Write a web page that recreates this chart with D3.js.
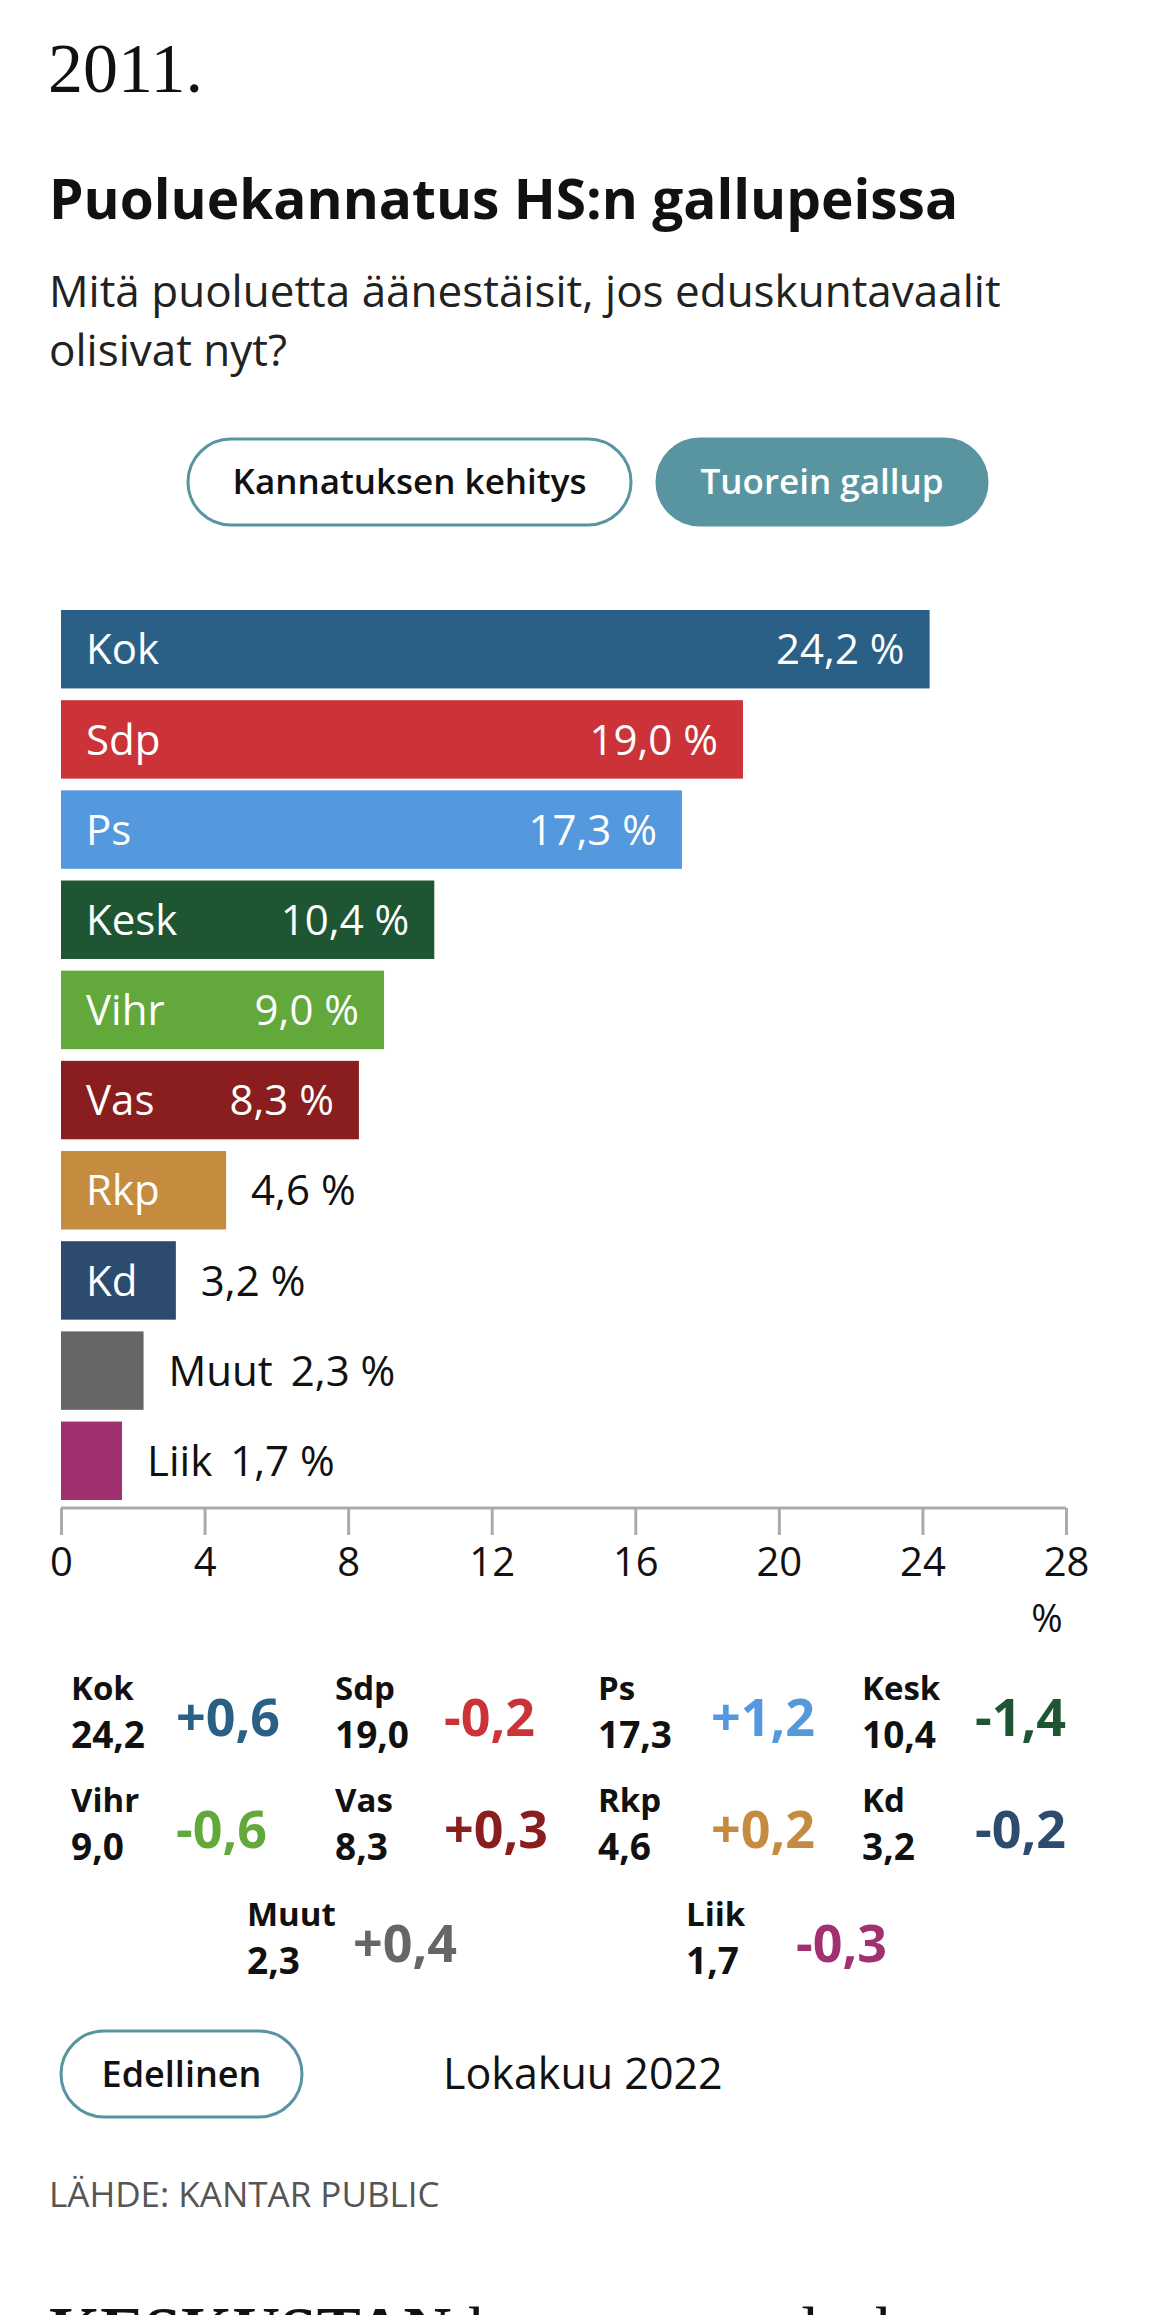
<!DOCTYPE html>
<html><head><meta charset="utf-8">
<script src="https://cdn.jsdelivr.net/npm/d3@7"></script>
<style>body{margin:0;background:#fff}svg{display:block}</style>
</head><body>
<svg id="chart"></svg>
<script>
const parties = ['Kok','Sdp','Ps','Kesk','Vihr','Vas','Rkp','Kd','Muut','Liik'];
const support = [24.2,19.0,17.3,10.4,9.0,8.3,4.6,3.2,2.3,1.7];
const change = [0.6,-0.2,1.2,-1.4,-0.6,0.3,0.2,-0.2,0.4,-0.3];
const colors = ['#2a5f86','#cc3339','#5499de','#1e5532','#63a83a','#8a1d1d','#c58b3f','#2c4b6f','#666666','#a1306f'];
const ticks = [0,4,8,12,16,20,24,28];

const W = 1170, H = 2315;
const sans = '"Open Sans", Roboto, sans-serif';
const fmt = v => v.toFixed(1).replace('.', ',');
const svg = d3.select('#chart').attr('width', W).attr('height', H);

// header
svg.append('text').attr('x', 48).attr('y', 92).attr('font-family', '"Liberation Serif", serif')
  .attr('font-size', 70).attr('fill', '#111').text('2011.');
svg.append('text').attr('x', 49).attr('y', 219).attr('font-family', sans).attr('font-weight', 700)
  .attr('font-size', 55).attr('fill', '#111').text('Puoluekannatus HS:n gallupeissa');
['Mitä puoluetta äänestäisit, jos eduskuntavaalit', 'olisivat nyt?'].forEach((t, i) =>
  svg.append('text').attr('x', 49).attr('y', 307 + i * 59).attr('font-family', sans)
    .attr('font-size', 44).attr('fill', '#222').text(t));

function button(x, y, w, h, label, filled, size) {
  svg.append('rect').attr('x', x).attr('y', y).attr('width', w).attr('height', h).attr('rx', h / 2)
    .attr('fill', filled ? '#5895a1' : '#fff').attr('stroke', '#5895a1').attr('stroke-width', 3);
  svg.append('text').attr('x', x + w / 2).attr('y', y + h / 2).attr('dy', '0.35em')
    .attr('text-anchor', 'middle').attr('font-family', sans).attr('font-weight', 600)
    .attr('font-size', size).attr('fill', filled ? '#fff' : '#111').text(label);
}
button(188, 439, 443, 86, 'Kannatuksen kehitys', false, 35);
button(657, 439, 330, 86, 'Tuorein gallup', true, 35);

// bars
const x = d3.scaleLinear().domain([0, 28]).range([61, 1066]);
const y = d3.scaleBand().domain(parties).range([610, 1500]).paddingInner(0.13).paddingOuter(0);
const rows = parties.map((p, i) => ({ p, v: support[i], c: colors[i] }));

const g = svg.append('g');
g.selectAll('rect').data(rows).enter().append('rect')
  .attr('x', x(0)).attr('y', d => y(d.p)).attr('height', y.bandwidth())
  .attr('width', d => x(d.v) - x(0)).attr('fill', d => d.c);

rows.forEach(d => {
  const w = x(d.v) - x(0), cy = y(d.p) + y.bandwidth() / 2, end = x(d.v);
  const t = (xx, txt, anchor, fill) => g.append('text').attr('x', xx).attr('y', cy).attr('dy', '0.36em')
    .attr('text-anchor', anchor).attr('font-family', sans).attr('font-size', 42).attr('fill', fill).text(txt);
  if (w >= 250) {
    t(86, d.p, 'start', '#fff');
    t(end - 25, fmt(d.v) + ' %', 'end', '#fff');
  } else if (w >= 100) {
    t(86, d.p, 'start', '#fff');
    t(end + 25, fmt(d.v) + ' %', 'start', '#111');
  } else {
    const lab = t(end + 25, d.p, 'start', '#111');
    const lw = lab.node().getComputedTextLength();
    t(end + 25 + lw + 18, fmt(d.v) + ' %', 'start', '#111');
  }
});

// axis
const axis = svg.append('g').attr('transform', 'translate(0,1508)')
  .call(d3.axisBottom(x).tickValues(ticks).tickSize(27).tickFormat(d => d));
axis.select('.domain').attr('stroke', '#aaa').attr('stroke-width', 3).attr('d', `M${x(0)},0H${x(28)}`);
axis.selectAll('.tick line').attr('stroke', '#aaa').attr('stroke-width', 3);
axis.selectAll('.tick text').attr('font-family', sans).attr('font-size', 40).attr('fill', '#111').attr('y', 40).attr('dy', '0.71em');
svg.append('text').attr('x', 1047).attr('y', 1632).attr('text-anchor', 'middle').attr('font-family', sans)
  .attr('font-size', 38).attr('fill', '#111').text('%');

// change grid
const colX = [71, 335, 598, 862];
const pos = parties.map((p, i) => {
  if (i < 8) return { nx: colX[i % 4], by: 1700 + Math.floor(i / 4) * 112 };
  return i === 8 ? { nx: 247, by: 1926 } : { nx: 686, by: 1926 };
});
const chX = [176, 444, 711, 975, 176, 444, 711, 975, 353, 796];
parties.forEach((p, i) => {
  const o = pos[i];
  svg.append('text').attr('x', o.nx).attr('y', o.by).attr('font-family', sans).attr('font-weight', 700)
    .attr('font-size', 33).attr('fill', '#111').text(p);
  svg.append('text').attr('x', o.nx).attr('y', o.by + 48).attr('font-family', sans).attr('font-weight', 700)
    .attr('font-size', 37).attr('fill', '#111').text(fmt(support[i]));
  svg.append('text').attr('x', chX[i]).attr('y', o.by + 36).attr('font-family', sans).attr('font-weight', 700)
    .attr('font-size', 52).attr('fill', colors[i])
    .text((change[i] > 0 ? '+' : '-') + fmt(Math.abs(change[i])));
});

// footer
button(61, 2031, 241, 86, 'Edellinen', false, 36);
svg.append('text').attr('x', 443).attr('y', 2074).attr('dy', '0.35em').attr('font-family', sans)
  .attr('font-size', 43).attr('fill', '#111').text('Lokakuu 2022');
svg.append('text').attr('x', 49).attr('y', 2207).attr('font-family', sans).attr('font-size', 35)
  .attr('fill', '#555').text('LÄHDE: KANTAR PUBLIC');
const last = svg.append('text').attr('x', 49).attr('y', 2352).attr('font-family', '"Liberation Serif", serif')
  .attr('font-size', 66).attr('fill', '#111');
last.append('tspan').attr('font-weight', 700).text('KESKUSTAN');
last.append('tspan').text(' kannatus on laskenut');
</script>
</body></html>
